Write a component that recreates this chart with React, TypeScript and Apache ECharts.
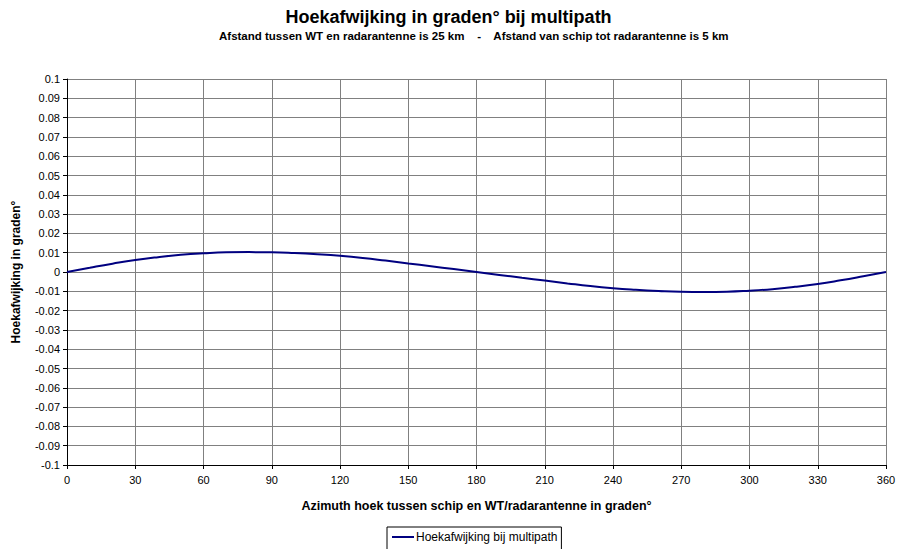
import React, { useEffect, useRef } from "react";
import * as echarts from "echarts";

const titleText = "Hoekafwijking in graden° bij multipath";
const subtitleText =
  "Afstand tussen WT en radarantenne is 25 km    -    Afstand van schip tot radarantenne is 5 km";
const xAxisName = "Azimuth hoek tussen schip en WT/radarantenne in graden°";
const yAxisName = "Hoekafwijking in graden°";
const seriesName = "Hoekafwijking bij multipath";

const azimuth = [
  0, 10, 20, 30, 40, 50, 60, 70, 80, 90, 100, 110, 120, 130, 140, 150, 160, 170, 180,
  190, 200, 210, 220, 230, 240, 250, 260, 270, 280, 290, 300, 310, 320, 330, 340, 350, 360,
];
const deviation = [
  0, 0.0022, 0.0043, 0.0062, 0.0077, 0.0089, 0.0097, 0.0102, 0.0103, 0.0102, 0.0098,
  0.0092, 0.0084, 0.0073, 0.0059, 0.0044, 0.003, 0.0015, 0, -0.0015, -0.003, -0.0044,
  -0.0059, -0.0073, -0.0084, -0.0092, -0.0098, -0.0102, -0.0103, -0.0102, -0.0097,
  -0.0089, -0.0077, -0.0062, -0.0043, -0.0022, 0,
];

export default function App() {
  const ref = useRef<HTMLDivElement>(null);
  useEffect(() => {
    document.body.style.margin = "0";
    if (!ref.current) return;
    const chart = echarts.init(ref.current, undefined, { renderer: "svg" });
    const font = "Arial, 'Liberation Sans', sans-serif";
    chart.setOption({
      animation: false,
      backgroundColor: "#ffffff",
      textStyle: { fontFamily: font },
      title: [
        {
          text: titleText,
          left: "center",
          top: 3,
          textStyle: { fontSize: 18, fontWeight: "bold", color: "#000", fontFamily: font },
        },
        {
          text: subtitleText,
          left: 214,
          top: 25,
          textStyle: { fontSize: 11.5, fontWeight: "bold", color: "#000", fontFamily: font, whiteSpace: "pre" },
        },
      ],
      grid: { left: 67, right: 11, top: 79, bottom: 84, containLabel: false, outerBoundsMode: "none" },
      legend: {
        left: 387,
        top: 527,
        padding: [4, 4, 8, 5],
        borderColor: "#000",
        borderWidth: 1,
        borderRadius: 0,
        itemWidth: 22,
        itemHeight: 2,
        itemGap: 4,
        icon: "rect",
        textStyle: { fontSize: 12, color: "#000", fontFamily: font, padding: [0, 0, 0, -3] },
        data: [seriesName],
      },
      xAxis: {
        type: "value",
        min: 0,
        max: 360,
        interval: 30,
        name: xAxisName,
        nameLocation: "middle",
        nameGap: 34,
        nameTextStyle: { fontSize: 12.5, fontWeight: "bold", color: "#000" },
        axisLine: { show: true, onZero: false, lineStyle: { color: "#000", width: 1 } },
        axisTick: { show: true, length: 4, lineStyle: { color: "#000" } },
        axisLabel: { fontSize: 11, color: "#000", margin: 9 },
        splitLine: { show: true, lineStyle: { color: "#808080", width: 1 } },
      },
      yAxis: {
        type: "value",
        min: -0.1,
        max: 0.1,
        interval: 0.01,
        name: yAxisName,
        nameLocation: "middle",
        nameGap: 45,
        nameRotate: 90,
        nameTextStyle: { fontSize: 12, fontWeight: "bold", color: "#000" },
        axisLine: { show: true, lineStyle: { color: "#000", width: 1 } },
        axisTick: { show: true, length: 4, lineStyle: { color: "#000" } },
        axisLabel: {
          fontSize: 11,
          color: "#000",
          margin: 7,
          formatter: (v: number) => String(parseFloat(v.toFixed(2))),
        },
        splitLine: { show: true, lineStyle: { color: "#808080", width: 1 } },
      },
      series: [
        {
          name: seriesName,
          type: "line",
          data: azimuth.map((a, i) => [a, deviation[i]]),
          smooth: true,
          showSymbol: false,
          symbol: "none",
          lineStyle: { color: "#000080", width: 2 },
          itemStyle: { color: "#000080" },
        },
      ],
    });
    return () => chart.dispose();
  }, []);
  return <div ref={ref} style={{ width: 897, height: 549 }} />;
}
